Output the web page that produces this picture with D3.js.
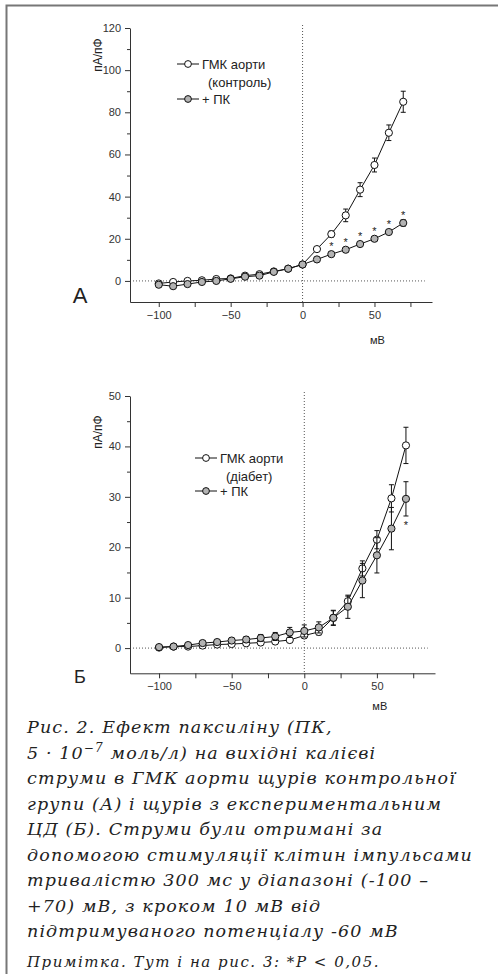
<!DOCTYPE html>
<html>
<head>
<meta charset="utf-8">
<script src="https://cdn.jsdelivr.net/npm/d3@7"></script>
<style>
  body { margin: 0; background: #fff; }
  svg { display: block; }
  .tick text { font-family: "Liberation Sans Narrow", "Arial Narrow", "Liberation Sans", Arial, sans-serif; fill: #333; }
  .axis path, .axis line { stroke: #333; }
  .lbl { font-family: "Liberation Sans Narrow", "Arial Narrow", "Liberation Sans", Arial, sans-serif; fill: #222; }
  .caption { font-family: "DejaVu Serif", serif; font-style: italic; fill: #222; }
</style>
</head>
<body>
<div id="main"></div>
<script>
// membrane potential steps, mV
let voltages = [-100, -90, -80, -70, -60, -50, -40, -30, -20, -10, 0, 10, 20, 30, 40, 50, 60, 70];

// panel A - control rats
let ctrlA    = [-1.2, -0.5, 0, 0.3, 0.9, 1.2, 2.5, 3.2, 4.5, 5.8, 7.8, 15.1, 22.2, 31.1, 43.3, 55.0, 70.3, 85.0];
let ctrlAErr = [0.8, 0.8, 0.8, 0.8, 0.8, 0.6, 0.8, 0.8, 0.7, 0.7, 0.7, 1.0, 1.5, 3.0, 3.3, 3.3, 3.7, 5.0];
let pkA      = [-1.8, -2.5, -1.5, -0.5, 0.0, 1.0, 2.0, 2.5, 4.3, 5.8, 7.8, 10.2, 12.7, 14.8, 17.5, 20.0, 23.2, 27.5];
let pkAErr   = [0.8, 0.8, 0.8, 0.8, 0.8, 0.6, 0.8, 0.8, 0.7, 0.7, 0.7, 1.0, 1.0, 1.0, 1.0, 1.0, 1.0, 1.5];
let sigA     = [20, 30, 40, 50, 60, 70];

// panel B - diabetic rats
let ctrlB    = [0.1, 0.3, 0.3, 0.5, 0.7, 0.8, 0.95, 1.1, 1.3, 1.6, 2.5, 3.2, 6.0, 9.3, 15.8, 21.5, 29.7, 40.2];
let ctrlBErr = [0.3, 0.3, 0.3, 0.4, 0.4, 0.4, 0.4, 0.4, 0.4, 0.5, 0.5, 0.6, 1.4, 1.0, 1.5, 1.8, 2.7, 3.6];
let pkB      = [0.2, 0.3, 0.6, 1.0, 1.2, 1.5, 1.7, 2.0, 2.3, 3.1, 3.4, 4.1, 6.0, 8.2, 13.4, 18.4, 23.7, 29.6];
let pkBErr   = [0.3, 0.3, 0.4, 0.5, 0.5, 0.5, 0.6, 0.7, 0.8, 1.0, 1.2, 1.1, 1.5, 2.3, 3.4, 3.5, 4.2, 3.4];
let sigB     = [70];

let xTicks = [-100, -50, 0, 50];
let xMinor = [-75, -25, 25, 75];
let yTicksA = [0, 20, 40, 60, 80, 100, 120];
let yMinorA = [10, 30, 50, 70, 90, 110];
let yTicksB = [0, 10, 20, 30, 40, 50];
let yMinorB = [5, 15, 25, 35, 45];

let legendA = ["ГМК аорти", "(контроль)", "+ ПК"];
let legendB = ["ГМК аорти", "(діабет)", "+ ПК"];

let captionLines = [
  "Рис. 2. Ефект паксиліну (ПК,",
  "5 · 10|−7| моль/л) на вихідні калієві",
  "струми в ГМК аорти щурів контрольної",
  "групи (А) і щурів з експериментальним",
  "ЦД (Б). Струми були отримані за",
  "допомогою стимуляції клітин імпульсами",
  "тривалістю 300 мс у діапазоні (-100 –",
  "+70) мВ, з кроком 10 мВ від",
  "підтримуваного потенціалу -60 мВ"
];
let noteLine = "Примітка. Тут і на рис. 3: *P < 0,05.";

let width = 498, height = 974;
let svg = d3.select('#main').append('svg')
  .attr('width', width)
  .attr('height', height);

// frame of the figure
svg.append('path')
  .attr('d', 'M6.5,974V5.5H498')
  .attr('fill', 'none')
  .attr('stroke', '#777')
  .attr('stroke-width', 2);

function drawPanel(opt) {
  let g = svg.append('g');
  let x = d3.scaleLinear().domain([-120, 90]).range(opt.xRange);
  let y = d3.scaleLinear().domain(opt.yDomain).range(opt.yRange);

  // dotted zero lines
  g.append('line')
    .attr('x1', x(-120)).attr('x2', x(85))
    .attr('y1', y(0)).attr('y2', y(0))
    .attr('stroke', '#555').attr('stroke-dasharray', '1,2');
  g.append('line')
    .attr('x1', x(0)).attr('x2', x(0))
    .attr('y1', opt.vTop).attr('y2', y(opt.yDomain[0]))
    .attr('stroke', '#555').attr('stroke-dasharray', '1,2');

  // axes
  let xa = g.append('g').attr('class', 'axis')
    .attr('transform', 'translate(0,' + y(opt.yDomain[0]) + ')');
  xa.call(d3.axisBottom(x).tickValues(xTicks).tickSize(5).tickPadding(4).tickSizeOuter(0))
    .selectAll('text').style('font-size', '11px');
  xa.append('g').call(d3.axisBottom(x).tickValues(xMinor).tickSize(5).tickFormat(''))
    .select('.domain').remove();

  let ya = g.append('g').attr('class', 'axis')
    .attr('transform', 'translate(' + x(-120) + ',0)');
  ya.call(d3.axisLeft(y).tickValues(opt.yTicks).tickSize(5).tickPadding(4).tickSizeOuter(0))
    .selectAll('text').style('font-size', '11px');
  ya.append('g').call(d3.axisLeft(y).tickValues(opt.yMinor).tickSize(3).tickFormat(''))
    .select('.domain').remove();

  // axis titles and panel letter
  g.append('text').attr('class', 'lbl')
    .attr('transform', 'translate(' + (x(-120) - 28) + ',' + opt.yLabelY + ') rotate(-90)')
    .attr('text-anchor', 'middle')
    .style('font-size', '12px')
    .text('пА/пФ');
  g.append('text').attr('class', 'lbl')
    .attr('x', x(52)).attr('y', opt.xLabelY)
    .attr('text-anchor', 'middle')
    .style('font-size', '11px')
    .text('мВ');
  g.append('text')
    .attr('x', 80).attr('y', opt.letterY)
    .attr('text-anchor', 'middle')
    .style('font-family', 'Liberation Sans, Arial, sans-serif')
    .style('font-size', opt.letterSize + 'px')
    .attr('fill', '#222')
    .text(opt.letter);

  let line = d3.line()
    .x(function(d, i) { return x(voltages[i]); })
    .y(function(d) { return y(d); });

  function series(vals, errs, fill) {
    let s = g.append('g');
    s.append('path')
      .datum(vals)
      .attr('d', line)
      .attr('fill', 'none')
      .attr('stroke', '#111')
      .attr('stroke-width', 1);
    let eb = s.selectAll('.err')
      .data(vals)
      .enter().append('g').attr('class', 'err');
    eb.append('path')
      .attr('d', function(d, i) {
        let cx = x(voltages[i]);
        let y1 = y(d + errs[i]), y2 = y(d - errs[i]);
        return 'M' + (cx - 2.5) + ',' + y1 + 'H' + (cx + 2.5) +
               'M' + cx + ',' + y1 + 'V' + y2 +
               'M' + (cx - 2.5) + ',' + y2 + 'H' + (cx + 2.5);
      })
      .attr('stroke', '#111')
      .attr('fill', 'none');
    s.selectAll('circle')
      .data(vals)
      .enter().append('circle')
      .attr('cx', function(d, i) { return x(voltages[i]); })
      .attr('cy', function(d) { return y(d); })
      .attr('r', 3.6)
      .attr('fill', fill)
      .attr('stroke', '#111')
      .attr('stroke-width', 1);
  }

  series(opt.ctrl, opt.ctrlErr, '#fff');
  series(opt.pk, opt.pkErr, '#b3b3b3');

  // significance marks
  g.selectAll('.star')
    .data(opt.sig)
    .enter().append('text')
    .attr('class', 'lbl')
    .attr('x', function(d) { return x(d); })
    .attr('y', function(d) {
      let i = voltages.indexOf(d);
      return opt.starAbove ? y(opt.pk[i]) - 4 : y(opt.pk[i] - opt.pkErr[i]) + 13;
    })
    .attr('text-anchor', 'middle')
    .style('font-size', '11px')
    .text('*');

  // legend
  let lg = g.append('g').attr('transform', 'translate(' + opt.legendX + ',0)');
  [0, 2].forEach(function(k) {
    let ly = opt.legendY[k];
    lg.append('line')
      .attr('x1', 0).attr('x2', 22)
      .attr('y1', ly).attr('y2', ly)
      .attr('stroke', '#111');
    lg.append('circle')
      .attr('cx', 11).attr('cy', ly).attr('r', 3.4)
      .attr('fill', k === 0 ? '#fff' : '#b3b3b3')
      .attr('stroke', '#111');
  });
  opt.legend.forEach(function(t, k) {
    lg.append('text').attr('class', 'lbl')
      .attr('x', k === 1 ? 31 : 25)
      .attr('y', opt.legendY[k] + 4.5)
      .style('font-size', '13px')
      .text(t);
  });
}

drawPanel({
  xRange: [130, 432], yDomain: [-10, 120], yRange: [302, 28],
  yTicks: yTicksA, yMinor: yMinorA, vTop: 25,
  ctrl: ctrlA, ctrlErr: ctrlAErr, pk: pkA, pkErr: pkAErr, sig: sigA, starAbove: true,
  legend: legendA, legendX: 177, legendY: [64, 82, 99],
  yLabelY: 55, xLabelY: 344, letter: 'А', letterY: 303, letterSize: 22
});

drawPanel({
  xRange: [130, 435], yDomain: [-5, 50], yRange: [673.3, 396],
  yTicks: yTicksB, yMinor: yMinorB, vTop: 392,
  ctrl: ctrlB, ctrlErr: ctrlBErr, pk: pkB, pkErr: pkBErr, sig: sigB, starAbove: false,
  legend: legendB, legendX: 195, legendY: [458, 476, 491],
  yLabelY: 432, xLabelY: 710, letter: 'Б', letterY: 683, letterSize: 18
});

// caption
let cap = svg.append('g').attr('class', 'caption');
let capY0 = 733, capStep = 25.5;
let capRows = captionLines.map(function(s, i) {
  let t = cap.append('text')
    .attr('x', 27)
    .attr('y', capY0 + i * capStep)
    .style('font-size', '17.5px');
  let parts = s.split('|');
  t.append('tspan').text(parts[0]);
  if (parts.length > 1) {
    t.append('tspan').attr('dy', -7).style('font-size', '12px').text(parts[1]);
    t.append('tspan').attr('dy', 7).text(parts[2]);
  }
  return t;
});
// stretch letter spacing so the widest line fills the column
let widest = capRows[5];
let w0 = widest.node().getComputedTextLength();
let n = captionLines[5].length;
let ls = (446 - w0) / n;
capRows.forEach(function(t) { t.style('letter-spacing', ls + 'px'); });

let note = cap.append('text')
  .attr('x', 27)
  .attr('y', 967)
  .style('font-size', '15px')
  .text(noteLine);
let nw = note.node().getComputedTextLength();
note.style('letter-spacing', ((353 - nw) / noteLine.length) + 'px');
</script>
</body>
</html>
